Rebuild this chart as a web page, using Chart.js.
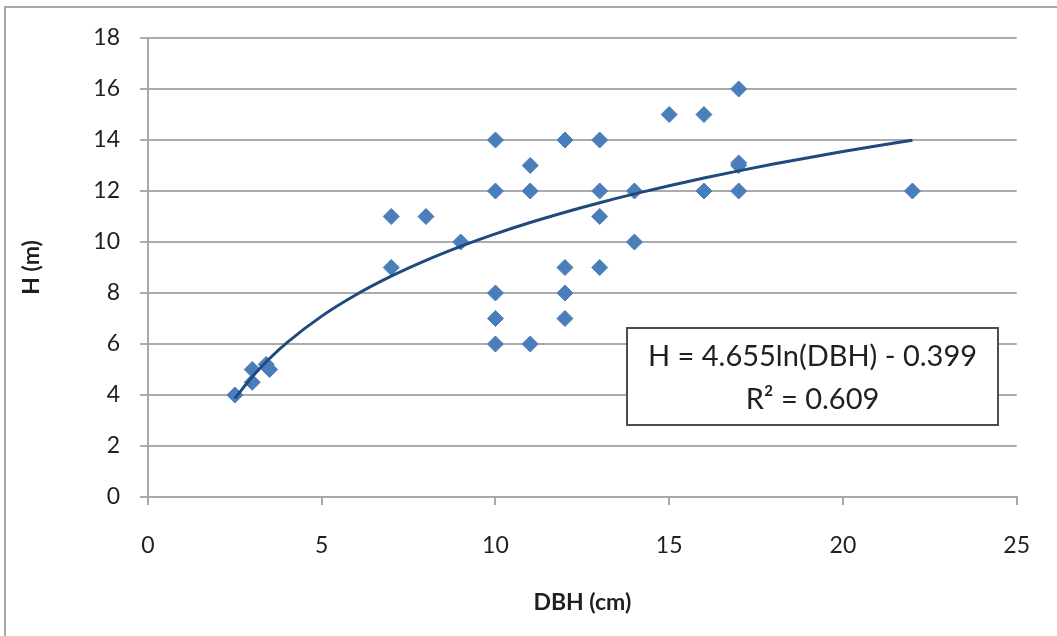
<!DOCTYPE html>
<html><head><meta charset="utf-8">
<script src="https://cdn.jsdelivr.net/npm/chart.js@4.4.1/dist/chart.umd.min.js"></script>
<style>html,body{margin:0;padding:0;background:#fff}#wrap{width:1057px;height:636px}</style>
</head><body><div id="wrap"><canvas id="c" width="1057" height="636"></canvas></div>
<script>
// Observed data (DBH in cm, H in m)
const dbh = [2.5, 3, 3, 3.4, 3.5, 7, 7, 8, 9, 10, 10, 10, 10, 10, 11, 11, 11, 12, 12, 12, 12, 13, 13, 13, 13, 14, 14, 15, 16, 16, 17, 17, 17, 17, 22];
const height = [4, 5, 4.5, 5.2, 5, 11, 9, 11, 10, 14, 12, 8, 7, 6, 13, 12, 6, 14, 9, 8, 7, 14, 12, 11, 9, 12, 10, 15, 15, 12, 16, 13, 13.1, 12, 12];
// Logarithmic trendline as printed in the chart: H = a*ln(DBH) + b
const trendA = 4.655, trendB = -0.399;
const trendX = [2.5, 3, 3.5, 4, 5, 6, 7, 8, 9, 10, 11, 12, 13, 14, 15, 16, 17, 18, 19, 20, 21, 22];
const trendLabel = 'H = 4.655ln(DBH) - 0.399';
const r2Label = 'R\u00B2 = 0.609';
const xTicks = [0, 5, 10, 15, 20, 25];
const yTicks = [0, 2, 4, 6, 8, 10, 12, 14, 16, 18];
const xTitle = 'DBH (cm)', yTitle = 'H (m)';

const points = dbh.map((x, i) => ({x, y: height[i]}));
const trend = trendX.map(x => ({x, y: trendA * Math.log(x) + trendB}));

const FONT = 'Lato, "Open Sans", sans-serif';
const TXT = '#1f1f1f';

const deco = {
  id: 'deco',
  beforeDraw(chart) {
    const ctx = chart.ctx;
    ctx.save();
    ctx.fillStyle = '#fff';
    ctx.fillRect(0, 0, chart.width, chart.height);
    ctx.strokeStyle = '#a8a8a8';
    ctx.lineWidth = 2;
    ctx.strokeRect(5, 7, 1200, 800);
    ctx.restore();
  },
  afterDraw(chart) {
    const ctx = chart.ctx;
    const ca = chart.chartArea;
    ctx.save();
    ctx.fillStyle = TXT;
    ctx.font = 'bold 23px ' + FONT;
    ctx.textAlign = 'center';
    ctx.textBaseline = 'middle';
    ctx.fillText(xTitle, (ca.left + ca.right) / 2, 603);
    ctx.translate(32, (ca.top + ca.bottom) / 2);
    ctx.rotate(-Math.PI / 2);
    ctx.fillText(yTitle, 0, 0);
    ctx.restore();
    // equation box
    const bx = 627, by = 328, bw = 371, bh = 97;
    ctx.save();
    ctx.fillStyle = '#fff';
    ctx.fillRect(bx, by, bw, bh);
    ctx.strokeStyle = '#4d4d4d';
    ctx.lineWidth = 2;
    ctx.strokeRect(bx, by, bw, bh);
    ctx.fillStyle = TXT;
    ctx.font = '29px ' + FONT;
    ctx.textAlign = 'center';
    ctx.textBaseline = 'middle';
    ctx.fillText(trendLabel, bx + bw / 2, 357);
    ctx.fillText(r2Label, bx + bw / 2, 400);
    ctx.restore();
  }
};

new Chart(document.getElementById('c'), {
  type: 'scatter',
  data: {
    datasets: [
      {
        label: 'H',
        data: points,
        pointStyle: 'rectRot',
        pointRadius: 8,
        pointHoverRadius: 8,
        backgroundColor: '#4a7ebb',
        borderColor: '#4a7ebb',
        borderWidth: 1,
        order: 2
      },
      {
        label: 'trend',
        type: 'line',
        data: trend,
        showLine: true,
        pointRadius: 0,
        borderColor: '#1f4a7e',
        borderWidth: 3,
        tension: 0.4,
        cubicInterpolationMode: 'monotone',
        fill: false,
        order: 1
      }
    ]
  },
  options: {
    responsive: false,
    animation: false,
    events: [],
    layout: {padding: {left: 0, top: 38, right: 39, bottom: 0}},
    plugins: {legend: {display: false}, tooltip: {enabled: false}},
    scales: {
      x: {
        type: 'linear', min: 0, max: 25,
        afterBuildTicks: s => { s.ticks = xTicks.map(v => ({value: v})); },
        afterFit: s => { s.height = 139; },
        grid: {display: true, drawOnChartArea: false, drawTicks: true, tickLength: 8, color: '#a8a8a8', lineWidth: 2},
        border: {display: true, color: '#a8a8a8', width: 2},
        ticks: {color: TXT, font: {family: FONT, size: 23}, padding: 27, maxRotation: 0}
      },
      y: {
        type: 'linear', min: 0, max: 18,
        afterBuildTicks: s => { s.ticks = yTicks.map(v => ({value: v})); },
        afterFit: s => { s.width = 148; },
        grid: {display: true, drawTicks: true, tickLength: 8, color: '#ababab', lineWidth: 2},
        border: {display: true, color: '#a8a8a8', width: 2},
        ticks: {color: TXT, font: {family: FONT, size: 23}, padding: 20}
      }
    }
  },
  plugins: [deco]
});
</script>
</body></html>
